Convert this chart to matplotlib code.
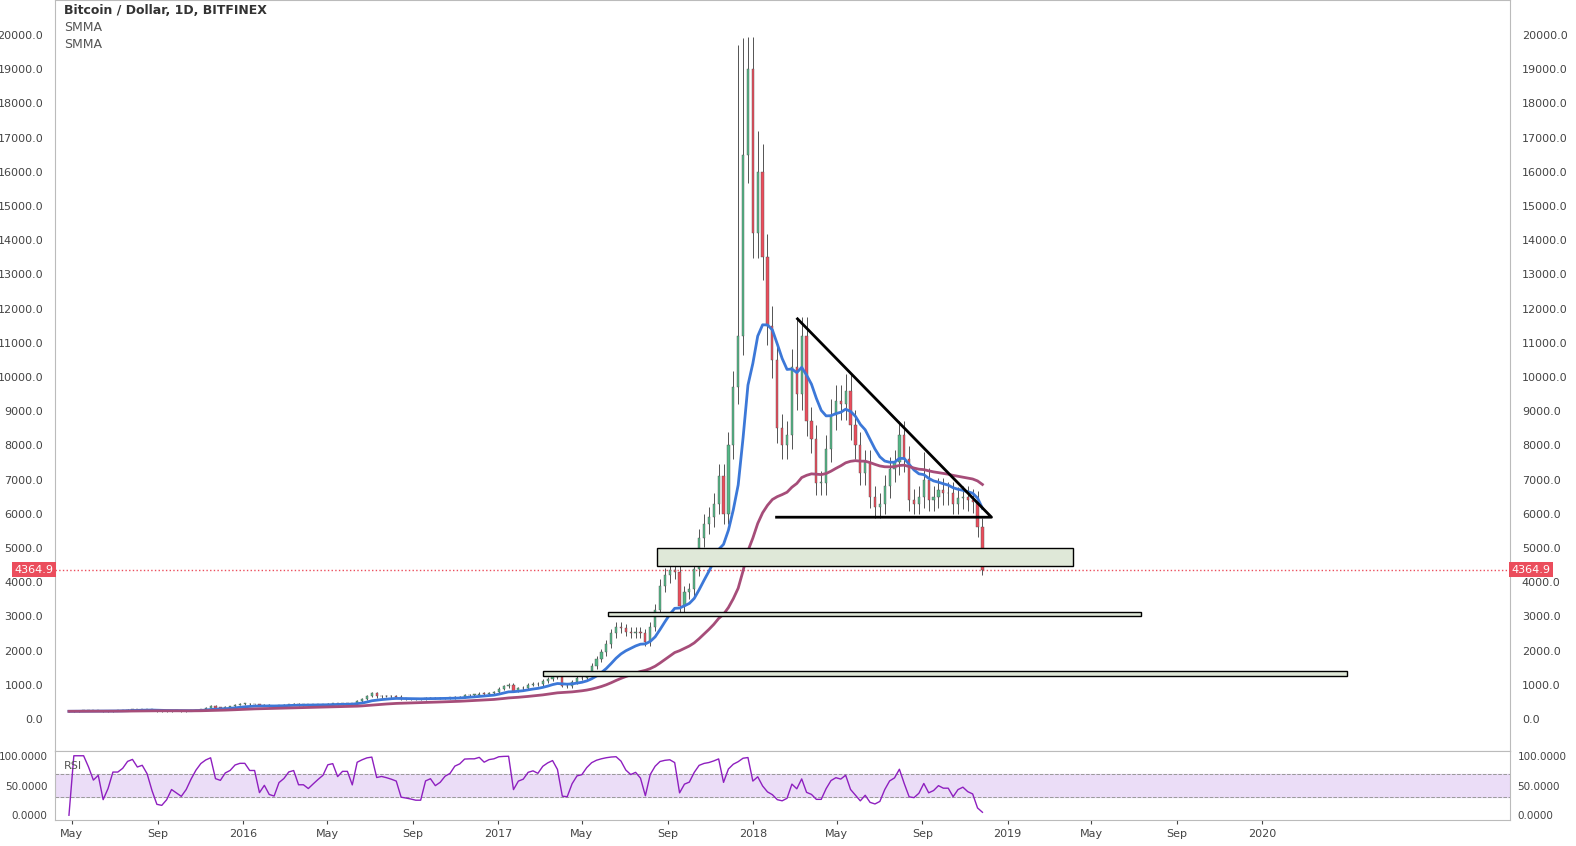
import numpy as np
import pandas as pd
import matplotlib.pyplot as plt
import matplotlib.dates as mdates
from matplotlib.patches import Rectangle

# weekly closes, first week starts 2015-04-27
closes = (
    [225, 230, 235] + [240, 238, 235, 237] + [225, 230, 245, 245, 250] + [270, 285, 280, 285]
    + [280, 265, 230, 225, 230] + [240, 235, 230, 235] + [245, 260, 285, 320]
    + [380, 330, 325, 360, 375] + [420, 440, 440, 430]
    + [430, 390, 405, 380] + [375, 400, 410, 430, 435] + [415, 415, 410, 415] + [420, 425, 450, 455]
    + [445, 455, 455, 445, 530] + [580, 670, 750, 660] + [670, 665, 660, 655] + [590, 585, 580, 575, 575]
    + [605, 610, 600, 605] + [615, 620, 640, 650, 700] + [705, 705, 740, 735] + [765, 780, 890, 960]
    + [1000, 820, 900, 920, 1000] + [1020, 1010, 1100, 1180] + [1270, 1230, 970, 960] + [1080, 1190, 1210, 1350]
    + [1550, 1750, 1950, 2200, 2500] + [2700, 2650, 2550, 2500] + [2550, 2500, 2250, 2700] + [3200, 3900, 4200, 4350]
    + [4300, 3300, 3700, 3800] + [4400, 5300, 5700, 5900, 6300] + [7100, 6000, 8000, 9700] + [11200, 16500, 19000, 14200]
    + [16000, 13500, 11500, 10500, 8500] + [8000, 8300, 10300, 9500] + [11200, 8700, 8200, 6900]
    + [6900, 7900, 8900, 9300, 9200] + [9600, 8600, 8000, 7200] + [7500, 6500, 6200, 6300]
    + [6800, 7300, 7500, 8300, 7600] + [6400, 6300, 6500, 7000] + [6400, 6500, 6700, 6600]
    + [6600, 6300, 6450, 6500, 6400] + [6350, 5600, 4365]
)
high_overrides = {"2017-12-18": 19900, "2017-12-11": 19700, "2018-01-08": 17200,
                  "2018-09-03": 7800, "2018-03-05": 11700}
last_price = 4364.9

zones = [("2017-08-17", "2019-04-05", 4474, 5000),
         ("2017-06-07", "2019-07-11", 3010, 3130),
         ("2017-03-06", "2020-05-02", 1257, 1400)]
triangle_pts = [("2018-03-06", 11700), ("2018-12-09", 5900), ("2018-02-04", 5900)]

dates = pd.date_range("2015-04-27", periods=len(closes), freq="7D")
c = np.array(closes, float)
o = np.r_[c[0], c[:-1]]
hi = np.maximum(o, c) * 1.05
lo = np.minimum(o, c) * 0.95
for d, v in high_overrides.items():
    i = np.argmin(np.abs(dates - pd.Timestamp(d)))
    hi[i] = v
lo[-1] = 4200


def smma(x, n):
    out = np.empty_like(x)
    out[0] = x[0]
    for i in range(1, len(x)):
        out[i] = (out[i - 1] * (n - 1) + x[i]) / n
    return out


def rsi(x, n=4):
    d = np.diff(x, prepend=x[0])
    up = smma(np.clip(d, 0, None), n)
    dn = smma(np.clip(-d, 0, None), n)
    return 100 - 100 / (1 + up / np.maximum(dn, 1e-9))


fig = plt.figure(figsize=(15.76, 8.46), dpi=100)
ax = fig.add_axes([55 / 1576, 1 - 751 / 846, 1455 / 1576, 751 / 846])
axr = fig.add_axes([55 / 1576, 1 - 820 / 846, 1455 / 1576, 69 / 846], sharex=ax)

x = mdates.date2num(dates)
w = 3.2
for xi, oi, ci, h, l in zip(x, o, c, hi, lo):
    col = "#53b987" if ci >= oi else "#eb4d5c"
    ax.vlines(xi, l, h, color="#535353", lw=0.7, zorder=2)
    ax.add_patch(Rectangle((xi - w / 2, min(oi, ci)), w, max(abs(ci - oi), 15),
                           facecolor=col, edgecolor="#535353", lw=0.3, zorder=3))

ax.plot(x, smma(c, 7), color="#3c78d8", lw=2, zorder=4)
ax.plot(x, smma(c, 25), color="#a64d79", lw=2, zorder=4)

for s, e, y0, y1 in zones:
    xs, xe = mdates.datestr2num(s), mdates.datestr2num(e)
    ax.add_patch(Rectangle((xs, y0), xe - xs, y1 - y0, facecolor="#dfe8d8",
                           edgecolor="black", lw=1, zorder=5))
ax.plot([mdates.datestr2num(d) for d, _ in triangle_pts], [v for _, v in triangle_pts],
        color="black", lw=2, zorder=6)

ax.axhline(last_price, color="#eb4d5c", ls=":", lw=1)
xmin, xmax = mdates.datestr2num("2015-04-07"), mdates.datestr2num("2020-12-21")
ax.set_xlim(xmin, xmax)
ax.set_ylim(-936, 21023)
yt = np.arange(0, 20001, 1000)
ax.set_yticks(yt)
ax.set_yticklabels([f"{v:.1f}" for v in yt])
ax.tick_params(axis="y", labelsize=8, colors="#444", left=False, right=False,
               labelleft=True, labelright=True, pad=5)
ax.tick_params(axis="x", bottom=False, labelbottom=False)
for lab_x, ha in [(-0.001, "right"), (1.001, "left")]:
    ax.text(lab_x, last_price, f"{last_price:.1f}", transform=ax.get_yaxis_transform(),
            ha=ha, va="center", fontsize=8, color="white",
            bbox=dict(boxstyle="square,pad=0.2", fc="#eb4d5c", ec="none"))
ax.text(0.006, 0.995, "Bitcoin / Dollar, 1D, BITFINEX", transform=ax.transAxes,
        fontsize=9, fontweight="bold", color="#333", va="top")
ax.text(0.006, 0.972, "SMMA", transform=ax.transAxes, fontsize=9, color="#555", va="top")
ax.text(0.006, 0.949, "SMMA", transform=ax.transAxes, fontsize=9, color="#555", va="top")

r = rsi(c)
axr.axhspan(30, 70, color="#e6d5f5", alpha=0.8)
axr.axhline(70, color="#999", ls="--", lw=0.7)
axr.axhline(30, color="#999", ls="--", lw=0.7)
axr.plot(x, r, color="#8e1fbf", lw=1)
axr.set_ylim(-8, 108)
axr.set_yticks([0, 50, 100])
axr.set_yticklabels(["0.0000", "50.0000", "100.0000"])
axr.tick_params(axis="y", labelsize=7.5, colors="#444", left=False, right=False,
                labelleft=True, labelright=True, pad=2)
axr.text(0.006, 0.85, "RSI", transform=axr.transAxes, fontsize=8, color="#555", va="top")

ticks = ["2015-05-01", "2015-09-01", "2016-01-01", "2016-05-01", "2016-09-01", "2017-01-01",
         "2017-05-01", "2017-09-01", "2018-01-01", "2018-05-01", "2018-09-01", "2019-01-01",
         "2019-05-01", "2019-09-01", "2020-01-01"]
axr.set_xticks([mdates.datestr2num(t) for t in ticks])
axr.set_xticklabels([t[:4] if t[5:7] == "01" else pd.Timestamp(t).strftime("%b") for t in ticks])
axr.tick_params(axis="x", labelsize=8, colors="#444", length=3)

for a in (ax, axr):
    for sp in a.spines.values():
        sp.set_color("#bbb")

fig.savefig("out.png", dpi=100)
